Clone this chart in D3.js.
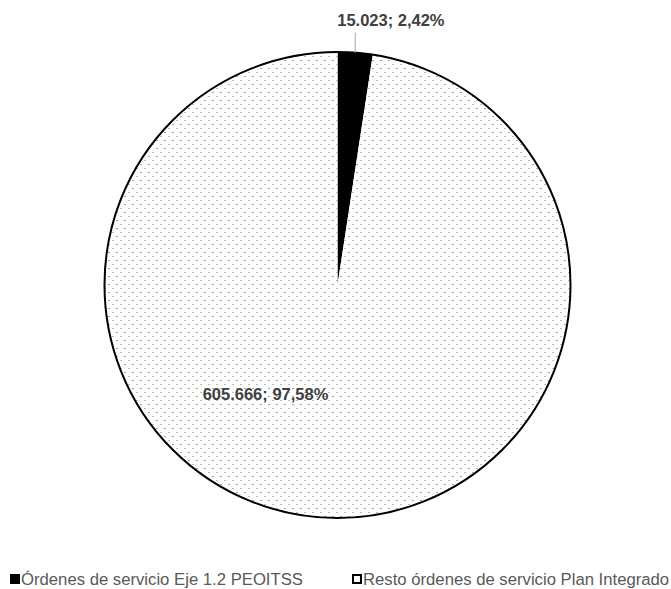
<!DOCTYPE html>
<html>
<head>
<meta charset="utf-8">
<script src="https://cdn.jsdelivr.net/npm/d3@7"></script>
<style>
  body { margin: 0; background: #fff; }
  svg { display: block; }
</style>
</head>
<body>
<svg width="671" height="589"></svg>
<script>
// data
const categories = ['Órdenes de servicio Eje 1.2 PEOITSS', 'Resto órdenes de servicio Plan Integrado'];
const values = [15023, 605666];
const labels = ['15.023; 2,42%', '605.666; 97,58%'];

const svg = d3.select('svg');
const cx = 337.5, cy = 285, radius = 233;

// dotted fill
const defs = svg.append('defs');
const pat = defs.append('pattern')
  .attr('id', 'dots')
  .attr('patternUnits', 'userSpaceOnUse')
  .attr('width', 8).attr('height', 8);
pat.append('rect').attr('width', 8).attr('height', 8).attr('fill', '#fff');
pat.append('rect').attr('x', 3).attr('y', 7).attr('width', 1).attr('height', 1).attr('fill', '#444')
  .attr('shape-rendering', 'crispEdges');
pat.append('rect').attr('x', 7).attr('y', 3).attr('width', 1).attr('height', 1).attr('fill', '#777')
  .attr('shape-rendering', 'crispEdges');

const fills = d3.scaleOrdinal().domain(categories).range(['#000', 'url(#dots)']);

const pie = d3.pie().sort(null).value(d => d.v);
const arcs = pie(categories.map((c, i) => ({c, v: values[i], label: labels[i]})));
const arc = d3.arc().innerRadius(0).outerRadius(radius);

const g = svg.append('g').attr('transform', `translate(${cx},${cy})`);

g.selectAll('path.slice')
  .data(arcs)
  .enter().append('path')
  .attr('class', 'slice')
  .attr('d', arc)
  .attr('fill', d => fills(d.data.c))
  .attr('stroke', 'none');

// outline
g.append('circle').attr('r', radius).attr('fill', 'none')
  .attr('stroke', '#000').attr('stroke-width', 2);

// label for the small slice, with leader line
const small = arcs[0];
const mid = (small.startAngle + small.endAngle) / 2;
const lx = radius * Math.sin(mid);
const ly = -radius * Math.cos(mid);
g.append('line')
  .attr('x1', lx).attr('y1', ly)
  .attr('x2', lx).attr('y2', ly - 20)
  .attr('stroke', '#a6a6a6').attr('stroke-width', 1);
g.append('text')
  .attr('x', lx - 18).attr('y', ly - 27)
  .attr('font-family', 'Liberation Sans, Arial, sans-serif')
  .attr('font-weight', 'bold')
  .attr('font-size', '16.5px')
  .attr('fill', '#404040')
  .text(small.data.label);

// label for the big slice
const big = arcs[1];
g.append('text')
  .attr('x', -72).attr('y', 115)
  .attr('text-anchor', 'middle')
  .attr('font-family', 'Liberation Sans, Arial, sans-serif')
  .attr('font-weight', 'bold')
  .attr('font-size', '16.5px')
  .attr('fill', '#404040')
  .text(big.data.label);

// legend
const legendX = [10, 352];
const leg = svg.selectAll('g.legend')
  .data(categories)
  .enter().append('g')
  .attr('class', 'legend')
  .attr('transform', (d, i) => `translate(${legendX[i]},574)`);
leg.append('rect')
  .attr('x', (d, i) => i ? 1 : 0).attr('y', (d, i) => i ? 1 : 0)
  .attr('width', (d, i) => i ? 8 : 10).attr('height', (d, i) => i ? 8 : 10)
  .attr('fill', (d, i) => i ? '#fff' : '#000')
  .attr('stroke', (d, i) => i ? '#000' : 'none')
  .attr('stroke-width', 2);
leg.append('text')
  .attr('x', 11).attr('y', 11)
  .attr('font-family', 'Liberation Sans, Arial, sans-serif')
  .attr('font-size', '16.7px')
  .attr('fill', '#595959')
  .text(d => d);
</script>
</body>
</html>
